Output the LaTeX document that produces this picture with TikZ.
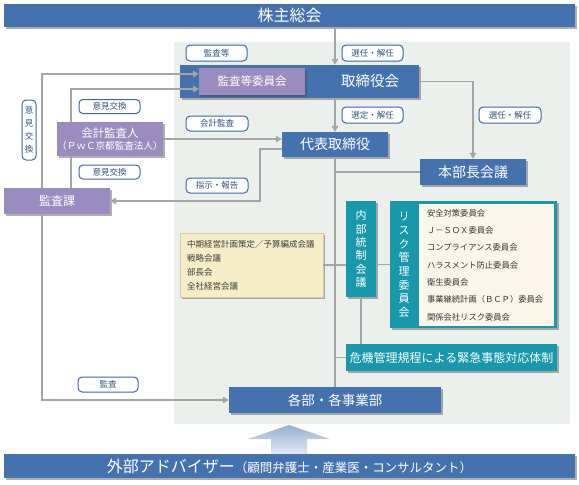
\documentclass[tikz,border=0pt]{standalone}
\usepackage{fontspec}
\setmainfont{Noto Sans CJK JP}
\usetikzlibrary{arrows.meta,shadows}
\definecolor{boardblue}{RGB}{67,114,174}
\definecolor{auditpurple}{RGB}{154,140,190}
\definecolor{ctrlteal}{RGB}{25,152,172}
\definecolor{listcream}{RGB}{252,246,234}
\definecolor{mtgbeige}{RGB}{244,237,198}
\definecolor{mtgedge}{RGB}{214,204,166}
\definecolor{areagray}{RGB}{236,240,237}
\definecolor{linkgray}{RGB}{165,165,165}
\definecolor{tagblue}{RGB}{62,102,165}
\definecolor{tagtext}{RGB}{52,82,132}
\definecolor{arrowtop}{RGB}{150,175,212}
\definecolor{arrowbot}{RGB}{226,233,243}
\newcommand{\fs}[1]{\fontsize{#1}{#1}\selectfont}
\begin{document}
\begin{tikzpicture}[x=1pt,y=-1pt,
	boxshadow/.style={drop shadow={shadow xshift=1.5pt,shadow yshift=-1.5pt,opacity=.45,fill=black!70}},
	bluebox/.style={fill=boardblue,text=white,inner sep=0pt,boxshadow},
	purplebox/.style={fill=auditpurple,text=white,inner sep=0pt,boxshadow},
	tealbox/.style={fill=ctrlteal,text=white,inner sep=0pt,boxshadow},
	tag/.style={draw=tagblue,line width=1pt,rounded corners=4pt,fill=white,text=tagtext,inner sep=0pt,font=\fs{8.5}},
	link/.style={draw=linkgray,line width=1.8pt},
	arr/.style={link,-{Triangle[length=6pt,width=6.5pt]}}]
	\useasboundingbox (0,0) rectangle (579,485);
	\fill[areagray] (174,42) rectangle (570,424);
	\coordinate (inA) at (199,74);
	\coordinate (inB) at (199,89);
	\coordinate (turn) at (260,149);
	\node[bluebox,minimum width=571pt,minimum height=23pt,font=\fs{16}] (kabu) at (289.5,15.5) {株主総会};
	\node[bluebox,minimum width=239pt,minimum height=33pt] (tori) at (299.5,81.5) {};
	\node[text=white,font=\fs{14.5}] (toritxt) at (370,81.5) {取締役会};
	\node[purplebox,minimum width=106pt,minimum height=27pt,font=\fs{11.5}] (kansatou) at (252,81.5) {監査等委員会};
	\node[bluebox,minimum width=106pt,minimum height=25pt,font=\fs{14}] (daihyo) at (335,144.5) {代表取締役};
	\node[bluebox,minimum width=106pt,minimum height=26pt,font=\fs{14}] (honbu) at (473,172) {本部長会議};
	\node[purplebox,minimum width=106pt,minimum height=34pt,align=center] (kaikei) at (110,139)
		{{\fontsize{11.5}{15}\selectfont 会計監査人}\\{\fontsize{9.6}{15}\selectfont （ＰｗＣ京都監査法人）}};
	\node[purplebox,minimum width=106pt,minimum height=26pt,font=\fs{12}] (kansaka) at (57,201) {監査課};
	\node[fill=mtgbeige,draw=mtgedge,line width=.6pt,boxshadow,minimum width=143pt,minimum height=64pt,
		inner xsep=7pt,inner ysep=0pt,text width=129pt,align=left,text=black!75,font=\fontsize{8.5}{14}\selectfont] (meeting) at (251.5,265)
		{中期経営計画策定／予算編成会議\\戦略会議\\部長会\\全社経営会議};
	\node[tealbox,minimum width=30pt,minimum height=96pt,align=center,font=\fontsize{11}{13.4}\selectfont] (naibu) at (361,249)
		{内\\部\\統\\制\\会\\議};
	\node[tealbox,minimum width=167pt,minimum height=127pt] (risk) at (473.5,264.5) {};
	\node[align=center,text=white,font=\fontsize{11}{13.7}\selectfont] (risklabel) at (404,265)
		{リ\\ス\\ク\\管\\理\\委\\員\\会};
	\node[fill=listcream,minimum width=135pt,minimum height=122pt,inner xsep=8pt,inner ysep=0pt,
		text width=119pt,align=left,text=black!80,font=\fontsize{8.3}{17.3}\selectfont] (risklist) at (486.5,265)
		{安全対策委員会\\Ｊ－ＳＯＸ委員会\\コンプライアンス委員会\\ハラスメント防止委員会\\衛生委員会\\事業継続計画（ＢＣＰ）委員会\\関係会社リスク委員会};
	\node[tealbox,minimum width=211pt,minimum height=27pt,font=\fs{12}] (kiki) at (451.5,357.5) {危機管理規程による緊急事態対応体制};
	\node[bluebox,minimum width=212pt,minimum height=26pt,font=\fs{13.5}] (kakubu) at (335,400) {各部・各事業部};
	\shade[top color=arrowtop,bottom color=arrowbot] (289,425) -- (330,439) -- (307,439) -- (307,454) -- (271,454) -- (271,439) -- (248,439) -- cycle;
	\node[bluebox,minimum width=571pt,minimum height=24pt] (gaibu) at (289.5,466)
		{{\fs{16}外部アドバイザー}{\fs{12.5}（顧問弁護士・産業医・コンサルタント）}};
	\node[tag,minimum width=61pt,minimum height=16pt] (tagkansa) at (216.5,53) {監査等};
	\node[tag,minimum width=61pt,minimum height=16pt] (tagsennin) at (372.5,53) {選任・解任};
	\node[tag,minimum width=61pt,minimum height=16pt] (tagsentei) at (372.5,115) {選定・解任};
	\node[tag,minimum width=62pt,minimum height=16pt] (taghonbu) at (510,115) {選任・解任};
	\node[tag,minimum width=61pt,minimum height=14pt] (tagikenA) at (109.5,106.5) {意見交換};
	\node[tag,minimum width=61pt,minimum height=14pt] (tagikenB) at (109.5,172) {意見交換};
	\node[tag,minimum width=14pt,minimum height=60pt,align=center,font=\fontsize{8.5}{13}\selectfont] (tagikenV) at (29,130) {意\\見\\交\\換};
	\node[tag,minimum width=62pt,minimum height=15pt] (tagkaikei) at (217,123.5) {会計監査};
	\node[tag,minimum width=62pt,minimum height=15pt] (tagshiji) at (217,185.5) {指示・報告};
	\node[tag,minimum width=60pt,minimum height=15pt] (tagkansaB) at (108,384.5) {監査};
	\draw[arr] (kabu.south -| daihyo) -- (tori.north -| daihyo);
	\draw[arr] (tori.south -| daihyo) -- (daihyo.north);
	\draw[arr] (tori.east) -| (honbu.north);
	\draw[link] (daihyo.south) -- (kakubu.north);
	\draw[link] (daihyo.south |- honbu.west) -- (honbu.west);
	\draw[link] (meeting.east) -- (meeting.east -| naibu.west);
	\draw[link] (naibu.east |- risk.west) -- (risk.west);
	\draw[link] (naibu.south) -- (naibu.south |- kiki.north);
	\draw[link] (daihyo.south |- kiki.west) -- (kiki.west);
	\draw[arr] (kaikei.east) -- (kaikei.east -| daihyo.west);
	\draw[arr,{Triangle[length=6pt,width=6.5pt]}-] (kansaka.east) -| (turn) -- (turn -| daihyo.west);
	\draw[arr] (kansaka.north -| 42,0) |- (inA);
	\draw[arr] (kaikei.north -| 71,0) |- (inB);
	\draw[link] (kaikei.south -| 71,0) -- (kansaka.north -| 71,0);
	\draw[arr] (kansaka.south -| 42,0) |- (kakubu.west);
\end{tikzpicture}
\end{document}
